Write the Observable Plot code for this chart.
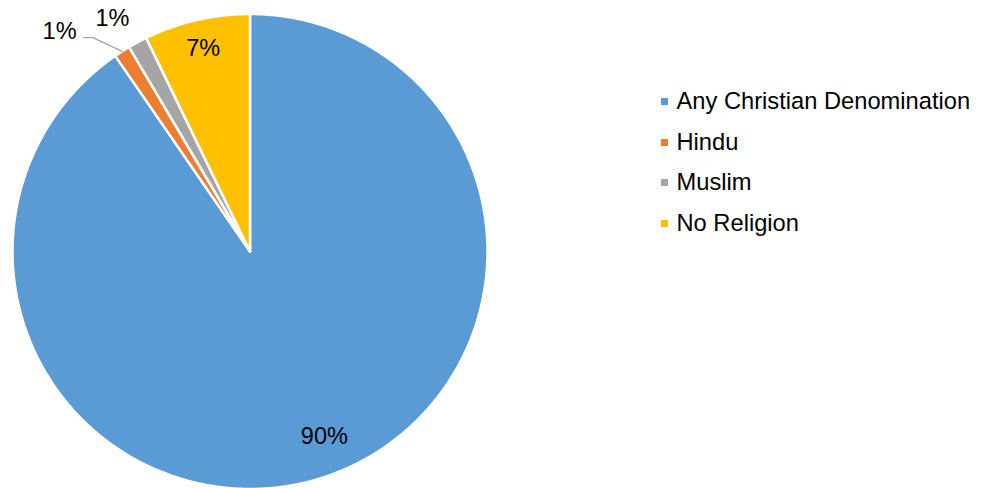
<!DOCTYPE html>
<html>
<head>
<meta charset="utf-8">
<script src="https://cdn.jsdelivr.net/npm/d3@7"></script>
<script src="https://cdn.jsdelivr.net/npm/@observablehq/plot@0.6"></script>
<style>
  html, body { margin: 0; padding: 0; background: #fff; }
  #wrap { position: relative; width: 981px; height: 488px; overflow: hidden; font-family: "Liberation Sans", Arial, sans-serif; }
  #legend { position: absolute; left: 661px; top: 81.5px; }
  .row { display: flex; align-items: center; height: 40.5px; font-size: 23.7px; color: #000; }
  .sw { width: 7px; height: 7px; margin-right: 8.5px; flex: none; }
</style>
</head>
<body>
<div id="wrap"><div id="chart"></div><div id="legend"></div></div>
<script>
// ---- data ----
const categories = ["Any Christian Denomination", "Hindu", "Muslim", "No Religion"];
const shares = [90.4, 1.1, 1.3, 7.2];
const valueLabels = ["90%", "1%", "1%", "7%"];
const colors = ["#5B9BD5", "#ED7D31", "#A5A5A5", "#FFC000"];

// ---- layout (label placement in fraction of radius / degrees offset) ----
const labelRadius = [0.84, 1.225, 1.139, 0.879];
const labelTurn = [-4.6, -8.3, -2.3, 0];
const leaderSlice = 1; // Hindu label uses a leader line

const total = d3.sum(shares);
const polar = (deg, r) => ({x: r * Math.sin(deg * Math.PI / 180), y: r * Math.cos(deg * Math.PI / 180)});

let start = 0;
const slices = categories.map((c, i) => {
  const a0 = start, a1 = start + shares[i] / total * 360;
  start = a1;
  const pts = [{x: 0, y: 0}];
  const n = Math.max(2, Math.ceil((a1 - a0) / 0.5));
  for (let k = 0; k <= n; k++) pts.push(polar(a0 + (a1 - a0) * k / n, 1));
  pts.push({x: 0, y: 0});
  return {cat: c, a0, a1, mid: (a0 + a1) / 2, pts, color: colors[i]};
});

const labelData = slices.map((s, i) => ({...polar(s.mid + labelTurn[i], labelRadius[i]), text: valueLabels[i]}));

const hs = slices[leaderSlice];
const lab = labelData[leaderSlice];
const leader = [
  polar(hs.mid, 1.0),
  {x: lab.x + 0.14, y: lab.y - 0.026},
  {x: lab.x + 0.102, y: lab.y - 0.026}
];

const R = 237.5, cx = 249.5, cy = 251;
const chart = Plot.plot({
  width: 981,
  height: 488,
  margin: 0,
  x: {domain: [-1, 1], range: [cx - R, cx + R], axis: null},
  y: {domain: [-1, 1], range: [cy + R, cy - R], axis: null},
  style: {fontFamily: '"Liberation Sans", Arial, sans-serif', background: "white", overflow: "visible"},
  marks: [
    ...slices.map(s => Plot.line(s.pts, {x: "x", y: "y", fill: s.color, stroke: "white", strokeWidth: 2.5, strokeLinejoin: "round"})),
    Plot.line(leader, {x: "x", y: "y", stroke: "#A6A6A6", strokeWidth: 1.3}),
    Plot.text(labelData, {x: "x", y: "y", text: "text", fontSize: 23.5, fill: "#000"})
  ]
});
document.getElementById("chart").appendChild(chart);

const legend = document.getElementById("legend");
categories.forEach((c, i) => {
  const row = document.createElement("div");
  row.className = "row";
  const sw = document.createElement("span");
  sw.className = "sw";
  sw.style.background = colors[i];
  const t = document.createElement("span");
  t.textContent = c;
  row.appendChild(sw);
  row.appendChild(t);
  legend.appendChild(row);
});
</script>
</body>
</html>
